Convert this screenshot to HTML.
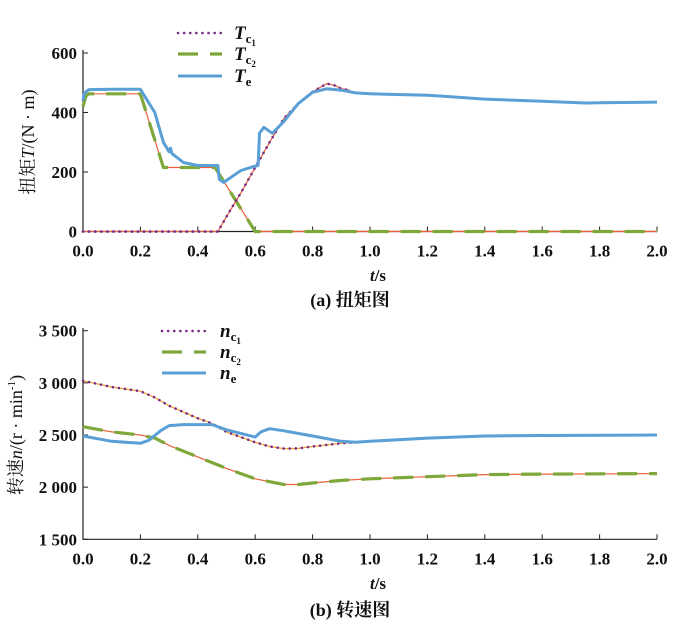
<!DOCTYPE html>
<html><head><meta charset="utf-8"><style>
html,body{margin:0;padding:0;background:#fff;}
svg{display:block;}
text{font-family:"Liberation Serif","Noto Serif CJK SC",serif;fill:#111;}
</style></head><body>
<svg id="chart" width="700" height="638" viewBox="0 0 700 638" xmlns="http://www.w3.org/2000/svg"></svg>
<script>
// ---- data: torque chart (a)
var xTicks = [0,0.2,0.4,0.6,0.8,1.0,1.2,1.4,1.6,1.8,2.0];
var xTickLabels = ["0.0","0.2","0.4","0.6","0.8","1.0","1.2","1.4","1.6","1.8","2.0"];
var tTicks = [0,200,400,600];
var tTickLabels = ["0","200","400","600"];
var tc1T = [0,0.47,0.5,0.55,0.6,0.65,0.7,0.75,0.8,0.85,0.88,0.9,0.93];
var tc1V = [0,0,50,130,215,300,380,430,470,497,490,480,475];
var tc2T = [0,0.01,0.02,0.2,0.28,0.46,0.6,2.0];
var tc2V = [420,455,463,463,215,215,0,0];
var teT = [0,0.005,0.02,0.1,0.2,0.25,0.28,0.3,0.305,0.31,0.35,0.4,0.47,0.475,0.49,0.55,0.6,0.61,0.615,0.63,0.66,0.7,0.75,0.8,0.85,0.9,0.95,1.0,1.2,1.25,1.4,1.6,1.75,1.8,2.0];
var teV = [440,465,477,478,478,400,300,268,280,262,232,222,222,175,165,205,220,222,330,350,330,370,430,468,480,475,466,463,458,455,445,438,432,433,435];
// ---- data: speed chart (b)
var nTicks = [1500,2000,2500,3000,3500];
var nTickLabels = ["1 500","2 000","2 500","3 000","3 500"];
var ne1T = [0,0.1,0.2,0.25,0.3,0.4,0.45,0.5,0.6,0.65,0.7,0.75,0.8,0.9,1.0,1.2,1.4,1.6,2.0];
var ne1V = [3020,2960,2920,2860,2780,2660,2610,2530,2430,2390,2370,2372,2390,2420,2440,2470,2490,2495,2500];
var ne2T = [0,0.1,0.2,0.25,0.3,0.4,0.5,0.6,0.7,0.75,0.8,0.9,1.0,1.2,1.4,1.6,2.0];
var ne2V = [2580,2530,2500,2470,2400,2290,2180,2080,2025,2025,2040,2065,2080,2100,2120,2125,2130];
var neT = [0,0.1,0.2,0.23,0.27,0.3,0.35,0.45,0.5,0.6,0.62,0.65,0.7,0.8,0.9,0.95,1.0,1.2,1.4,1.6,2.0];
var neV = [2490,2440,2420,2450,2540,2590,2600,2600,2550,2480,2530,2560,2540,2490,2440,2430,2440,2470,2490,2495,2500];

var svg = document.getElementById('chart');
var NS = 'http://www.w3.org/2000/svg';
function mk(tag, attrs, parent){ var e=document.createElementNS(NS,tag); for(var k in attrs) e.setAttribute(k,attrs[k]); (parent||svg).appendChild(e); return e; }
function xs(t){ return 83 + t/2.0*574; }
function ysA(v){ return 231.5 - v/600*178.5; }
function ysB(v){ return 539.3 - (v-1500)/2000*208.6; }
function path(T,V,ys){ var d=''; for(var i=0;i<T.length;i++){ d+=(i?'L':'M')+xs(T[i]).toFixed(1)+','+ys(V[i]).toFixed(1); } return d; }

function panel(ys, yTicks, yLabels, y0, yTop, name){
  var g = mk('g',{});
  
  
  var ax = mk('path',{d:'M83,'+yTop+'L83,'+y0+'L657,'+y0, stroke:'#222','stroke-width':1.2, fill:'none'}, g);
  
  
  for (var i=0;i<xTicks.length;i++){
    var x=xs(xTicks[i]);
    var tk=mk('line',{x1:x,x2:x,y1:y0,y2:y0-5,stroke:'#222','stroke-width':1},g);
    
    
    var tl=mk('text',{x:x,y:y0+25,'text-anchor':'middle','font-size':17,'font-weight':'bold'},g);
    tl.textContent=xTickLabels[i];
    
    
  }
  for (var j=0;j<yTicks.length;j++){
    var y=ys(yTicks[j]);
    var tk2=mk('line',{x1:83,x2:88,y1:y,y2:y,stroke:'#222','stroke-width':1},g);
    
    
    var tl2=mk('text',{x:77,y:y+6,'text-anchor':'end','font-size':17,'font-weight':'bold'},g);
    tl2.textContent=yLabels[j];
    
    
  }
  return g;
}
function series(T,V,ys,style,under,name,g){
  if(under){ var u=mk('path',{d:path(T,V,ys),stroke:under,'stroke-width':1.2,fill:'none'},g);
    
     }
  var p=mk('path',{d:path(T,V,ys),fill:'none','stroke-linejoin':'round'},g);
  for(var k in style) p.setAttribute(k,style[k]);
  
  
}
var dotted={stroke:'#7a2d86','stroke-width':2.6,'stroke-dasharray':'0.1 6','stroke-linecap':'round'};
var dashed={stroke:'#7fa83a','stroke-width':3.2,'stroke-dasharray':'20 12'};
var solid={stroke:'#5aa0d6','stroke-width':3};

// Panel A
var gA = panel(ysA, tTicks, tTickLabels, 231.5, 50, 'torque-chart');
series(tc2T,tc2V,ysA,dashed,'#e8603a','tc2-line',gA);
series(tc1T,tc1V,ysA,dotted,'#e8603a','tc1-line',gA);
series([0,0.47],[0,0],ysA,dotted,null,'tc1-zero-line',gA);
series(teT,teV,ysA,solid,null,'te-line',gA);
// Panel B
var gB = panel(ysB, nTicks, nTickLabels, 539.3, 328, 'speed-chart');
series(ne2T,ne2V,ysB,dashed,'#e8603a','ne2-line',gB);
series(ne1T,ne1V,ysB,dotted,'#f0a030','ne1-line',gB);
series(neT,neV,ysB,solid,null,'ne-line',gB);

function legend(x1,y,style,label,sub,name,lx){
  var l=mk('line',{x1:x1,x2:x1+44,y1:y,y2:y});
  for(var k in style) l.setAttribute(k,style[k]);
  
  
  var t=mk('text',{x:lx,y:y+6,'font-size':19,'font-weight':'bold','font-style':'italic'});
  
  
  t.innerHTML=label+'<tspan font-size="13" dy="4" font-style="normal">'+sub+'</tspan>';
}
legend(178,33,dotted,'T','c<tspan font-size="9" dy="3">1</tspan>','legend-tc1',234);
legend(178,54,dashed,'T','c<tspan font-size="9" dy="3">2</tspan>','legend-tc2',234);
legend(178,76,solid,'T','e','legend-te',234);
legend(162,331,dotted,'n','c<tspan font-size="9" dy="3">1</tspan>','legend-ne1',220);
legend(162,352,dashed,'n','c<tspan font-size="9" dy="3">2</tspan>','legend-ne2',220);
legend(162,373,solid,'n','e','legend-ne',220);
</script>
<svg width="0" height="0" style="position:absolute"></svg>
<div style="position:absolute;left:0;top:0;width:700px;height:638px;pointer-events:none;">
<svg width="700" height="638" style="position:absolute;left:0;top:0">
<text transform="translate(34,142) rotate(-90)" text-anchor="middle" font-size="18" font-family="Liberation Serif,Noto Serif CJK SC,serif">扭矩<tspan font-style="italic">T</tspan>/(N · m)</text>
<text x="378" y="281" text-anchor="middle" font-size="17" font-weight="bold" font-family="Liberation Serif,serif"><tspan font-style="italic">t</tspan>/s</text>
<text x="350" y="306" text-anchor="middle" font-size="18" font-weight="bold" font-family="Liberation Serif,Noto Serif CJK SC,serif">(a) 扭矩图</text>
<text transform="translate(22,435) rotate(-90)" text-anchor="middle" font-size="18" font-family="Liberation Serif,Noto Serif CJK SC,serif">转速<tspan font-style="italic">n</tspan>/(r · min<tspan font-size="11" dy="-7">-1</tspan><tspan dy="7">)</tspan></text>
<text x="378" y="589" text-anchor="middle" font-size="17" font-weight="bold" font-family="Liberation Serif,serif"><tspan font-style="italic">t</tspan>/s</text>
<text x="350" y="616" text-anchor="middle" font-size="18" font-weight="bold" font-family="Liberation Serif,Noto Serif CJK SC,serif">(b) 转速图</text>
</svg></div>
</body></html>
